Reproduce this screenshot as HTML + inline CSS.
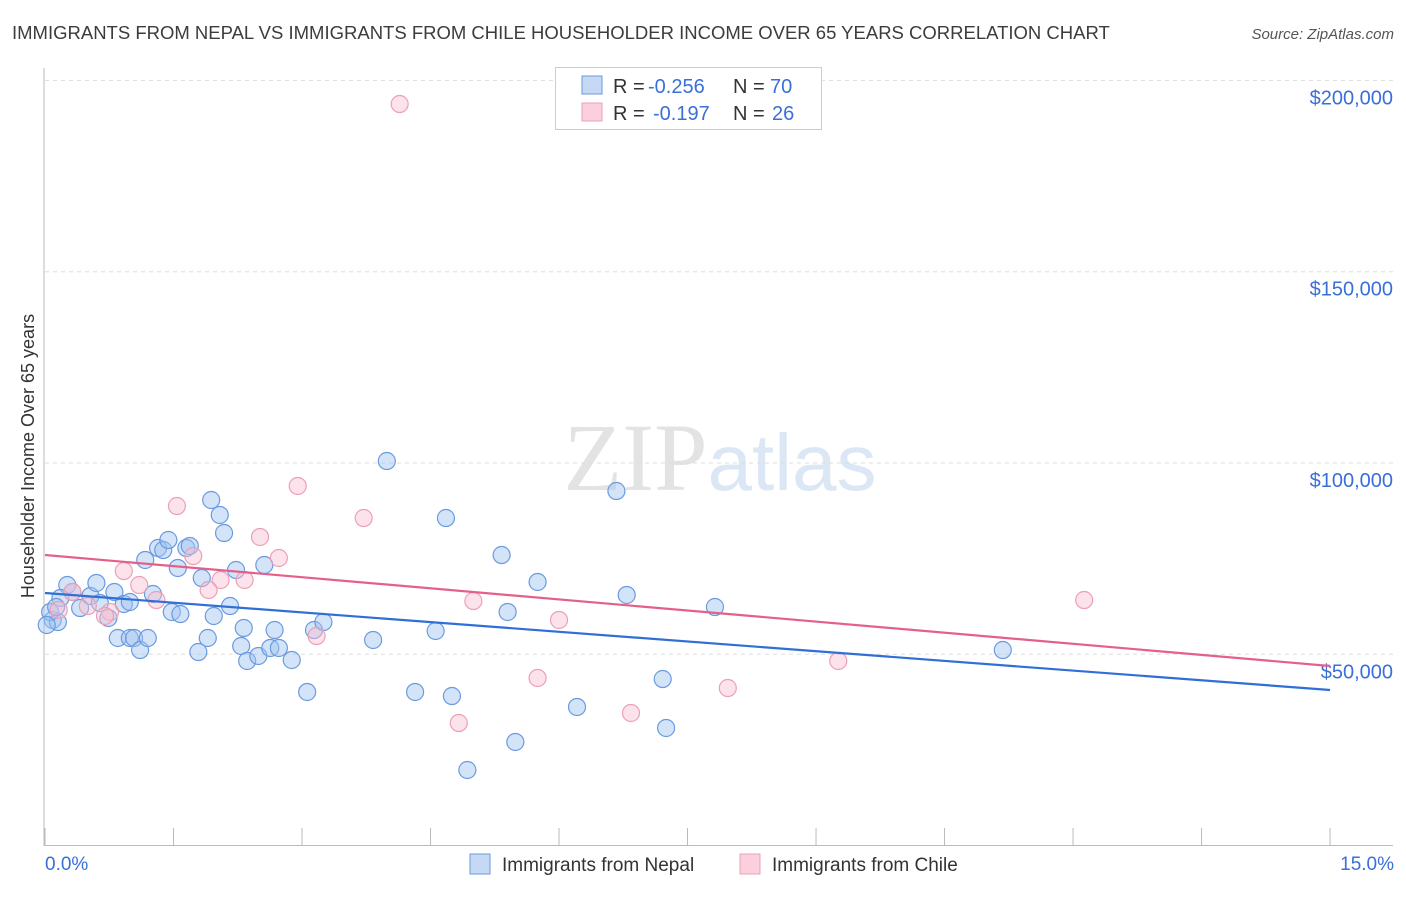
<!DOCTYPE html>
<html><head><meta charset="utf-8"><style>
body{margin:0;background:#fff;font-family:"Liberation Sans",sans-serif;}
svg text{font-family:"Liberation Sans",sans-serif;}
</style></head><body>
<svg id="chart" width="1406" height="892" viewBox="0 0 1406 892" xmlns="http://www.w3.org/2000/svg">
<text x="12" y="39" font-size="18.5" fill="#3c3c3c">IMMIGRANTS FROM NEPAL VS IMMIGRANTS FROM CHILE HOUSEHOLDER INCOME OVER 65 YEARS CORRELATION CHART</text>
<text x="1394" y="39" font-size="15" fill="#555" font-style="italic" text-anchor="end">Source: ZipAtlas.com</text>
<text x="720" y="490" font-size="96" text-anchor="middle"><tspan fill="#e3e3e3" font-family="Liberation Serif">ZIP</tspan><tspan fill="#dce7f5" font-size="80">atlas</tspan></text>
<g id="grid"></g>
<g id="axes"></g>
<text transform="translate(34,456) rotate(-90)" font-size="18" fill="#333" text-anchor="middle">Householder Income Over 65 years</text>
<g id="pts"></g>
<g id="lines"></g>
<g>
<rect x="555.5" y="67.5" width="266" height="62" fill="#fff" stroke="#ccc"/>
<rect x="582" y="76" width="20" height="18" fill="#c5d9f5" stroke="#6a9ae0"/>
<rect x="582" y="103" width="20" height="18" fill="#fbd0dc" stroke="#eba0b6"/>
<text x="613" y="93" font-size="20" fill="#333">R =</text>
<text x="648" y="93" font-size="20" fill="#3a6fd8">-0.256</text>
<text x="733" y="93" font-size="20" fill="#333">N =</text>
<text x="770" y="93" font-size="20" fill="#3a6fd8">70</text>
<text x="613" y="120" font-size="20" fill="#333">R =</text>
<text x="653" y="120" font-size="20" fill="#3a6fd8">-0.197</text>
<text x="733" y="120" font-size="20" fill="#333">N =</text>
<text x="772" y="120" font-size="20" fill="#3a6fd8">26</text>
</g>
<g>
<rect x="470" y="854" width="20" height="20" fill="#c5d9f5" stroke="#6a9ae0"/>
<text x="502" y="871" font-size="19" fill="#333">Immigrants from Nepal</text>
<rect x="740" y="854" width="20" height="20" fill="#fbd0dc" stroke="#eba0b6"/>
<text x="772" y="871" font-size="19" fill="#333">Immigrants from Chile</text>
</g>
</svg>
<script>
const yTicks=[50,100,150,200];
const yTickLabels=["$50,000","$100,000","$150,000","$200,000"];
const xTicks=[0,1.5,3,4.5,6,7.5,9,10.5,12,13.5,15];
const xEndLabels=["0.0%","15.0%"];
const nepalX=[0.09,0.15,0.06,0.26,0.18,0.32,0.41,0.53,0.60,0.64,0.74,0.81,0.85,0.92,0.99,1.04,1.11,1.17,1.20,1.26,1.32,1.38,1.44,1.48,1.55,1.58,1.65,1.69,1.79,1.83,1.90,1.94,1.97,2.04,2.09,2.16,2.23,2.29,2.32,2.36,2.49,2.56,2.63,2.68,2.73,2.88,3.06,3.14,3.25,3.83,3.99,4.32,4.56,4.68,4.75,4.93,5.33,5.40,5.49,5.75,6.21,6.67,6.79,7.21,7.25,7.82,11.18,0.02,0.13,0.99];
const nepalY=[58.97,58.44,61.06,68.11,64.72,66.28,62.10,65.24,68.64,63.41,59.49,66.28,54.26,63.15,54.26,54.26,51.12,74.65,54.26,65.76,77.78,77.26,79.87,61.06,72.56,60.53,77.78,78.31,50.60,69.94,54.26,90.33,60.01,86.41,81.70,62.62,72.03,52.17,56.87,48.25,49.56,73.34,51.65,56.35,51.65,48.51,40.15,56.35,58.44,53.74,100.52,40.15,56.09,85.62,39.10,19.76,75.95,61.06,27.08,68.90,36.23,92.68,65.50,43.54,30.74,62.36,51.12,57.66,62.36,63.67];
const chileX=[4.14,1.54,2.95,3.72,2.51,2.73,1.73,0.92,1.10,2.05,2.33,1.91,1.30,0.76,0.70,0.50,0.32,0.16,5.00,6.00,3.17,4.83,5.75,6.84,7.97,9.26,12.13];
const chileY=[193.83,88.76,93.99,85.62,80.66,75.17,75.69,71.77,68.11,69.42,69.42,66.81,64.19,61.06,60.01,62.62,66.28,61.58,63.93,58.97,54.78,32.04,43.81,34.66,41.19,48.25,64.19];
const nepalTrend=[66.02,40.67];
const chileTrend=[75.95,46.94];
const NS="http://www.w3.org/2000/svg";
const X=v=>45+v*85.67;
const Y=v=>845.6-v*3.826;
function mk(tag,attrs,parent){const e=document.createElementNS(NS,tag);for(const k in attrs)e.setAttribute(k,attrs[k]);parent.appendChild(e);return e;}
const grid=document.getElementById('grid'),axes=document.getElementById('axes'),pts=document.getElementById('pts'),lines=document.getElementById('lines');
yTicks.forEach((t,i)=>{
 const l=mk('line',{x1:45,x2:1393,y1:Y(t),y2:Y(t),stroke:'#ddd','stroke-dasharray':'4,4'},grid);
 
 
 const tx=mk('text',{x:1393,y:Y(t)+24,'font-size':20,fill:'#3a6fd8','text-anchor':'end'},axes);
 tx.textContent=yTickLabels[i];
 
 
});
const ax=mk('line',{x1:44,x2:44,y1:68,y2:846,stroke:'#bbb'},axes);


const bx=mk('line',{x1:44,x2:1393,y1:845.5,y2:845.5,stroke:'#bbb'},axes);


xTicks.forEach(t=>{
 const l=mk('line',{x1:X(t),x2:X(t),y1:828,y2:845,stroke:'#bbb'},axes);
 
 
});
[[0,'start',45],[15,'end',1394]].forEach((d,i)=>{
 const tx=mk('text',{x:d[2],y:870,'font-size':19,fill:'#3a6fd8','text-anchor':d[1]},axes);
 tx.textContent=xEndLabels[i];
 
 
});
nepalX.forEach((v,i)=>{
 const c=mk('circle',{cx:X(v),cy:Y(nepalY[i]),r:8.5,fill:'rgba(160,195,240,0.45)',stroke:'#6a9ae0','stroke-width':1.2},pts);
 
 
});
chileX.forEach((v,i)=>{
 const c=mk('circle',{cx:X(v),cy:Y(chileY[i]),r:8.5,fill:'rgba(248,190,208,0.45)',stroke:'#eba0b6','stroke-width':1.2},pts);
 
 
});
const nl=mk('line',{x1:X(0),x2:X(15),y1:Y(nepalTrend[0]),y2:Y(nepalTrend[1]),stroke:'#2f6fd6','stroke-width':2.2},lines);


const cl=mk('line',{x1:X(0),x2:X(15),y1:Y(chileTrend[0]),y2:Y(chileTrend[1]),stroke:'#e4608a','stroke-width':2.2},lines);


</script>
</body></html>
